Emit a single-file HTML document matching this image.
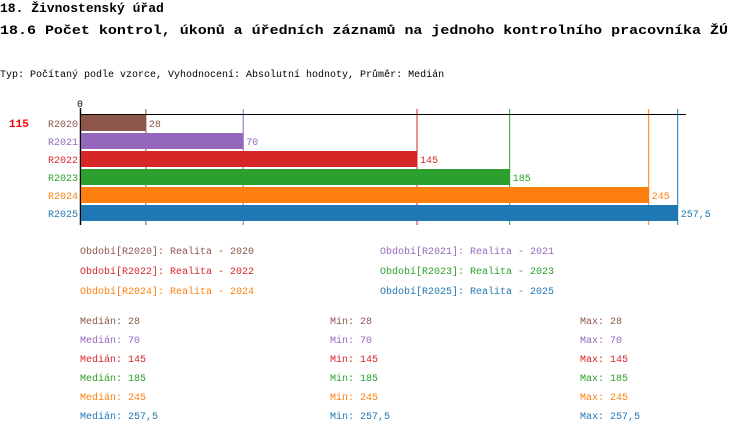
<!DOCTYPE html>
<html><head><meta charset="utf-8"><style>
body{margin:0;background:#fff;width:750px;height:438px;overflow:hidden;font-family:"Liberation Mono",monospace}
svg text{font-family:"Liberation Mono",monospace}
</style></head><body>
<svg width="750" height="438">
<text x="0" y="12" font-size="13" font-weight="bold">18. Živnostenský úřad</text>
<text x="0" y="34" font-size="13" font-weight="bold" textLength="728" lengthAdjust="spacingAndGlyphs">18.6 Počet kontrol, úkonů a úředních záznamů na jednoho kontrolního pracovníka ŽÚ</text>
<text x="0" y="77" font-size="10">Typ: Počítaný podle vzorce, Vyhodnocení: Absolutní hodnoty, Průměr: Medián</text>
<text x="9" y="127" font-size="11" font-weight="bold" fill="#f00">115</text>
<g id="plot"></g>
<g id="legend"></g>
</svg>
<script>
const categories=["R2020","R2021","R2022","R2023","R2024","R2025"];
const values=[28,70,145,185,245,257.5];
const labels=["28","70","145","185","245","257,5"];
const colors=["#8c564b","#9467bd","#d62728","#2ca02c","#ff7f0e","#1f77b4"];
const NS="http://www.w3.org/2000/svg";
const x0=81,scale=(417-81)/145;
const xs=v=>x0+v*scale;
const plot=document.getElementById('plot');
function mk(t,a,p){const e=document.createElementNS(NS,t);for(const k in a)e.setAttribute(k,a[k]);(p||plot).appendChild(e);return e;}
values.forEach((v,i)=>{
 const g=mk('line',{x1:xs(v),x2:xs(v),y1:109,y2:225,stroke:colors[i],'stroke-width':1});
 
 
});
const ax=mk('line',{x1:80,x2:686,y1:114.5,y2:114.5,stroke:'#000','stroke-width':1});


const ay=mk('line',{x1:80.5,x2:80.5,y1:108,y2:225,stroke:'#000','stroke-width':1.5});


const z=mk('text',{x:77,y:107,'font-size':10});z.textContent='0';


values.forEach((v,i)=>{
 const y=115+i*18;
 const r=mk('rect',{x:81,y:y,width:xs(v)-81,height:16,fill:colors[i]});
 
 
 const c=mk('text',{x:78,y:y+12,'font-size':10,fill:colors[i],'text-anchor':'end'});c.textContent=categories[i];
 
 
 const t=mk('text',{x:xs(v)+3,y:y+12,'font-size':10,fill:colors[i]});t.textContent=labels[i];
 
 
});
const lg=document.getElementById('legend');
categories.forEach((c,i)=>{
 const t=mk('text',{x:80+(i%2)*300,y:254+Math.floor(i/2)*20,'font-size':10,fill:colors[i]},lg);
 t.textContent='Období['+c+']: Realita - '+c.slice(1);
 
 
});
categories.forEach((c,i)=>{
 ['Medián','Min','Max'].forEach((n,j)=>{
  const t=mk('text',{x:80+j*250,y:324+i*19,'font-size':10,fill:colors[i]},lg);
  t.textContent=n+': '+labels[i];
  
  
 });
});
</script>
</body></html>
